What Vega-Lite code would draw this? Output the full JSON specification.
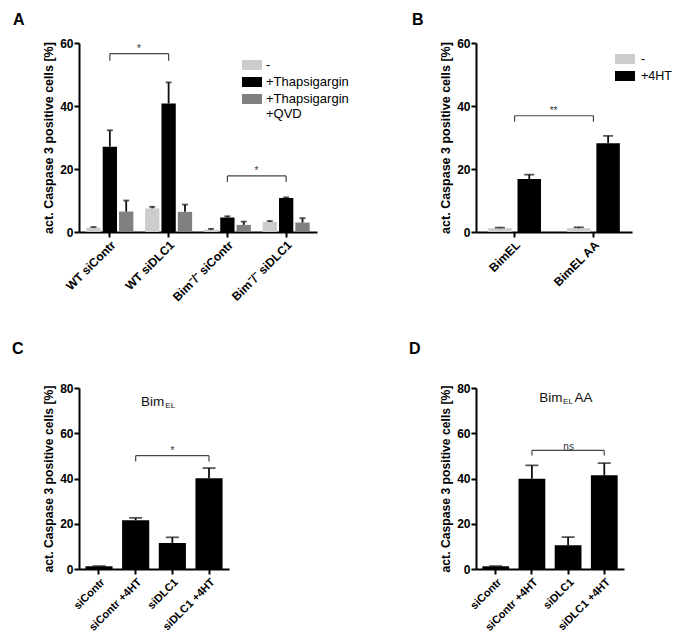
{
  "$schema": "https://vega.github.io/schema/vega-lite/v6.json",
  "background": "white",
  "padding": {"left": 12, "top": 12, "right": 0, "bottom": 0},
  "autosize": {"type": "pad"},
  "bounds": "flush",
  "columns": 2,
  "spacing": {"row": 156, "column": 159},
  "resolve": {"scale": {"x": "independent", "y": "independent", "color": "independent", "xOffset": "independent"}, "legend": {"color": "independent"}},
  "config": {
    "font": "Liberation Sans",
    "view": {"stroke": null},
    "axis": {"grid": false, "domainColor": "#000", "domainWidth": 2, "tickColor": "#000", "tickWidth": 2, "tickSize": 5, "labelColor": "#000", "labelFont": "Liberation Sans", "labelFontWeight": "bold", "labelFontSize": 12, "labelPadding": 1, "titleColor": "#000", "titleFont": "Liberation Sans", "titleFontWeight": "bold", "titleFontSize": 12.5, "titlePadding": 4},
    "axisX": {"labelAngle": -45, "labelPadding": 2, "title": null},
    "legend": {"labelFont": "Liberation Sans", "labelFontSize": 13, "labelColor": "#000", "title": null},
    "title": {"font": "Liberation Sans", "fontSize": 16, "fontWeight": "bold", "color": "#000", "anchor": "start", "frame": "group", "baseline": "alphabetic"}
  },
  "datasets": {
    "A": [
      {"group": "WT siContr", "treatment": "-", "mean": 1.4, "upper": 1.6},
      {"group": "WT siContr", "treatment": "+Thapsigargin", "mean": 27.1, "upper": 32.3},
      {"group": "WT siContr", "treatment": "+Thapsigargin +QVD", "mean": 6.5, "upper": 10.0},
      {"group": "WT siDLC1", "treatment": "-", "mean": 7.5, "upper": 8.0},
      {"group": "WT siDLC1", "treatment": "+Thapsigargin", "mean": 40.8, "upper": 47.5},
      {"group": "WT siDLC1", "treatment": "+Thapsigargin +QVD", "mean": 6.4, "upper": 8.7},
      {"group": "Bim⁻/⁻ siContr", "treatment": "-", "mean": 0.75, "upper": 1.0},
      {"group": "Bim⁻/⁻ siContr", "treatment": "+Thapsigargin", "mean": 4.6, "upper": 5.0},
      {"group": "Bim⁻/⁻ siContr", "treatment": "+Thapsigargin +QVD", "mean": 2.25, "upper": 3.3},
      {"group": "Bim⁻/⁻ siDLC1", "treatment": "-", "mean": 3.2, "upper": 3.5},
      {"group": "Bim⁻/⁻ siDLC1", "treatment": "+Thapsigargin", "mean": 10.8, "upper": 11.0},
      {"group": "Bim⁻/⁻ siDLC1", "treatment": "+Thapsigargin +QVD", "mean": 3.0, "upper": 4.4}
    ],
    "Abr": [
      {"left": "WT siContr", "right": "WT siDLC1", "level": 56.6, "low": 54.4, "textlevel": 58.2, "label": "*"},
      {"left": "Bim⁻/⁻ siContr", "right": "Bim⁻/⁻ siDLC1", "level": 17.8, "low": 15.9, "textlevel": 19.4, "label": "*"}
    ],
    "B": [
      {"group": "BimEL", "treatment": "-", "mean": 1.2, "upper": 1.4},
      {"group": "BimEL", "treatment": "+4HT", "mean": 16.8, "upper": 18.2},
      {"group": "BimEL AA", "treatment": "-", "mean": 1.2, "upper": 1.5},
      {"group": "BimEL AA", "treatment": "+4HT", "mean": 28.2, "upper": 30.5}
    ],
    "Bbr": [
      {"left": "BimEL", "right": "BimEL AA", "level": 36.9, "low": 35.0, "textlevel": 38.4, "label": "**"}
    ],
    "C": [
      {"condition": "siContr", "mean": 1.2, "upper": 1.3},
      {"condition": "siContr +4HT", "mean": 21.5, "upper": 22.6},
      {"condition": "siDLC1", "mean": 11.5, "upper": 14.0},
      {"condition": "siDLC1 +4HT", "mean": 40.1, "upper": 44.6}
    ],
    "Cbr": [
      {"left": "siContr +4HT", "right": "siDLC1 +4HT", "level": 50.1, "low": 47.5, "textlevel": 52.0, "label": "*"}
    ],
    "D": [
      {"condition": "siContr", "mean": 1.2, "upper": 1.3},
      {"condition": "siContr +4HT", "mean": 39.9, "upper": 45.8},
      {"condition": "siDLC1", "mean": 10.5, "upper": 14.1},
      {"condition": "siDLC1 +4HT", "mean": 41.4, "upper": 46.8}
    ],
    "Dbr": [
      {"left": "siContr +4HT", "right": "siDLC1 +4HT", "level": 52.4, "low": 50.2, "textlevel": 54.0, "label": "ns"}
    ],
    "Ctitle": [{"name": "Bim", "sub": "EL"}],
    "Dtitle": [{"name": "Bim", "sub": "EL", "rest": "AA"}]
  },
  "concat": [
    {
      "width": 238, "height": 189,
      "title": {"text": "A", "dx": -66, "offset": 9},
      "layer": [
        {"data": {"name": "A"}, "mark": {"type": "bar"},
         "encoding": {
           "x": {"field": "group", "type": "nominal", "sort": null, "scale": {"paddingInner": 0.2, "paddingOuter": 0.125}},
           "xOffset": {"field": "treatment", "type": "nominal", "sort": null, "scale": {"paddingInner": 0.125}},
           "y": {"field": "mean", "type": "quantitative", "scale": {"domain": [0, 60], "nice": false}, "axis": {"values": [0, 20, 40, 60], "title": "act. Caspase 3 positive cells [%]"}},
           "color": {"field": "treatment", "type": "nominal", "sort": null,
             "scale": {"domain": ["-", "+Thapsigargin", "+Thapsigargin +QVD"], "range": ["#cccccc", "#000000", "#808080"]},
             "legend": {"orient": "none", "legendX": 163, "legendY": 12, "symbolType": "M-1,-0.5H1V0.5H-1Z", "symbolSize": 400, "symbolStrokeWidth": 0, "labelOffset": 4, "rowPadding": -1, "labelFontSize": 13,
               "labelExpr": "datum.label === '+Thapsigargin +QVD' ? ['+Thapsigargin', '+QVD'] : datum.label"}}
         }},
        {"data": {"name": "A"}, "mark": {"type": "rule", "color": "#111", "strokeWidth": 1.8},
         "encoding": {
           "x": {"field": "group", "type": "nominal", "sort": null},
           "xOffset": {"field": "treatment", "type": "nominal", "sort": null},
           "y": {"field": "mean", "type": "quantitative"},
           "y2": {"field": "upper"}
         }},
        {"data": {"name": "A"}, "mark": {"type": "tick", "color": "#111", "thickness": 1.8, "size": 6, "orient": "horizontal"},
         "encoding": {
           "x": {"field": "group", "type": "nominal", "sort": null},
           "xOffset": {"field": "treatment", "type": "nominal", "sort": null},
           "y": {"field": "upper", "type": "quantitative"}
         }},
        {"data": {"name": "Abr"}, "mark": {"type": "rule", "color": "#444", "strokeWidth": 1.2},
         "encoding": {"x": {"field": "left", "type": "nominal", "sort": null}, "x2": {"field": "right"}, "y": {"field": "level", "type": "quantitative"}}},
        {"data": {"name": "Abr"}, "mark": {"type": "rule", "color": "#444", "strokeWidth": 1.2},
         "encoding": {"x": {"field": "left", "type": "nominal", "sort": null}, "y": {"field": "level", "type": "quantitative"}, "y2": {"field": "low"}}},
        {"data": {"name": "Abr"}, "mark": {"type": "rule", "color": "#444", "strokeWidth": 1.2},
         "encoding": {"x": {"field": "right", "type": "nominal", "sort": null}, "y": {"field": "level", "type": "quantitative"}, "y2": {"field": "low"}}},
        {"data": {"name": "Abr"}, "mark": {"type": "text", "color": "#333", "fontSize": 10, "dx": 29, "baseline": "middle"},
         "encoding": {"x": {"field": "left", "type": "nominal", "sort": null}, "y": {"field": "textlevel", "type": "quantitative"}, "text": {"field": "label"}}}
      ]
    },
    {
      "width": 156, "height": 189,
      "title": {"text": "B", "dx": -64, "offset": 9},
      "layer": [
        {"data": {"name": "B"}, "mark": {"type": "bar"},
         "encoding": {
           "x": {"field": "group", "type": "nominal", "sort": null, "scale": {"paddingInner": 0.33, "paddingOuter": 0.154}},
           "xOffset": {"field": "treatment", "type": "nominal", "sort": null, "scale": {"paddingInner": 0.2}},
           "y": {"field": "mean", "type": "quantitative", "scale": {"domain": [0, 60], "nice": false}, "axis": {"values": [0, 20, 40, 60], "title": "act. Caspase 3 positive cells [%]"}},
           "color": {"field": "treatment", "type": "nominal", "sort": null,
             "scale": {"domain": ["-", "+4HT"], "range": ["#cccccc", "#000000"]},
             "legend": {"orient": "none", "legendX": 139, "legendY": 6, "symbolType": "M-1,-0.5H1V0.5H-1Z", "symbolSize": 400, "symbolStrokeWidth": 0, "labelOffset": 6, "rowPadding": -1, "labelFontSize": 12.5}}
         }},
        {"data": {"name": "B"}, "mark": {"type": "rule", "color": "#111", "strokeWidth": 1.8},
         "encoding": {
           "x": {"field": "group", "type": "nominal", "sort": null},
           "xOffset": {"field": "treatment", "type": "nominal", "sort": null},
           "y": {"field": "mean", "type": "quantitative"},
           "y2": {"field": "upper"}
         }},
        {"data": {"name": "B"}, "mark": {"type": "tick", "color": "#111", "thickness": 1.8, "size": 10, "orient": "horizontal"},
         "encoding": {
           "x": {"field": "group", "type": "nominal", "sort": null},
           "xOffset": {"field": "treatment", "type": "nominal", "sort": null},
           "y": {"field": "upper", "type": "quantitative"}
         }},
        {"data": {"name": "Bbr"}, "mark": {"type": "rule", "color": "#444", "strokeWidth": 1.2},
         "encoding": {"x": {"field": "left", "type": "nominal", "sort": null}, "x2": {"field": "right"}, "y": {"field": "level", "type": "quantitative"}}},
        {"data": {"name": "Bbr"}, "mark": {"type": "rule", "color": "#444", "strokeWidth": 1.2},
         "encoding": {"x": {"field": "left", "type": "nominal", "sort": null}, "y": {"field": "level", "type": "quantitative"}, "y2": {"field": "low"}}},
        {"data": {"name": "Bbr"}, "mark": {"type": "rule", "color": "#444", "strokeWidth": 1.2},
         "encoding": {"x": {"field": "right", "type": "nominal", "sort": null}, "y": {"field": "level", "type": "quantitative"}, "y2": {"field": "low"}}},
        {"data": {"name": "Bbr"}, "mark": {"type": "text", "color": "#333", "fontSize": 10, "dx": 39, "baseline": "middle"},
         "encoding": {"x": {"field": "left", "type": "nominal", "sort": null}, "y": {"field": "textlevel", "type": "quantitative"}, "text": {"field": "label"}}}
      ]
    },
    {
      "width": 150, "height": 181,
      "title": {"text": "C", "dx": -67, "offset": 25},
      "layer": [
        {"data": {"name": "C"}, "mark": {"type": "bar", "color": "#000"},
         "encoding": {
           "x": {"field": "condition", "type": "nominal", "sort": null, "scale": {"paddingInner": 0.26, "paddingOuter": 0.175}, "axis": {"labelFontSize": 11}},
           "y": {"field": "mean", "type": "quantitative", "scale": {"domain": [0, 80], "nice": false}, "axis": {"values": [0, 20, 40, 60, 80], "title": "act. Caspase 3 positive cells [%]", "titleFontSize": 12.2}}
         }},
        {"data": {"name": "C"}, "mark": {"type": "rule", "color": "#111", "strokeWidth": 1.8},
         "encoding": {"x": {"field": "condition", "type": "nominal", "sort": null}, "y": {"field": "mean", "type": "quantitative"}, "y2": {"field": "upper"}}},
        {"data": {"name": "C"}, "mark": {"type": "tick", "color": "#111", "thickness": 1.8, "size": 13, "orient": "horizontal"},
         "encoding": {"x": {"field": "condition", "type": "nominal", "sort": null}, "y": {"field": "upper", "type": "quantitative"}}},
        {"data": {"name": "Cbr"}, "mark": {"type": "rule", "color": "#444", "strokeWidth": 1.2},
         "encoding": {"x": {"field": "left", "type": "nominal", "sort": null}, "x2": {"field": "right"}, "y": {"field": "level", "type": "quantitative"}}},
        {"data": {"name": "Cbr"}, "mark": {"type": "rule", "color": "#444", "strokeWidth": 1.2},
         "encoding": {"x": {"field": "left", "type": "nominal", "sort": null}, "y": {"field": "level", "type": "quantitative"}, "y2": {"field": "low"}}},
        {"data": {"name": "Cbr"}, "mark": {"type": "rule", "color": "#444", "strokeWidth": 1.2},
         "encoding": {"x": {"field": "right", "type": "nominal", "sort": null}, "y": {"field": "level", "type": "quantitative"}, "y2": {"field": "low"}}},
        {"data": {"name": "Cbr"}, "mark": {"type": "text", "color": "#333", "fontSize": 10, "dx": 36.7, "baseline": "middle"},
         "encoding": {"x": {"field": "left", "type": "nominal", "sort": null}, "y": {"field": "textlevel", "type": "quantitative"}, "text": {"field": "label"}}},
        {"data": {"name": "Ctitle"}, "mark": {"type": "text", "color": "#111", "fontSize": 13.5, "align": "right", "baseline": "alphabetic", "dx": -8},
         "encoding": {"x": {"datum": "siDLC1"}, "y": {"datum": 72}, "text": {"field": "name"}}},
        {"data": {"name": "Ctitle"}, "mark": {"type": "text", "color": "#111", "fontSize": 8, "align": "left", "baseline": "alphabetic", "dx": -7, "dy": 2},
         "encoding": {"x": {"datum": "siDLC1"}, "y": {"datum": 72}, "text": {"field": "sub"}}}
      ]
    },
    {
      "width": 148, "height": 181,
      "title": {"text": "D", "dx": -67, "offset": 25},
      "layer": [
        {"data": {"name": "D"}, "mark": {"type": "bar", "color": "#000"},
         "encoding": {
           "x": {"field": "condition", "type": "nominal", "sort": null, "scale": {"paddingInner": 0.26, "paddingOuter": 0.175}, "axis": {"labelFontSize": 11}},
           "y": {"field": "mean", "type": "quantitative", "scale": {"domain": [0, 80], "nice": false}, "axis": {"values": [0, 20, 40, 60, 80], "title": "act. Caspase 3 positive cells [%]", "titleFontSize": 12.2}}
         }},
        {"data": {"name": "D"}, "mark": {"type": "rule", "color": "#111", "strokeWidth": 1.8},
         "encoding": {"x": {"field": "condition", "type": "nominal", "sort": null}, "y": {"field": "mean", "type": "quantitative"}, "y2": {"field": "upper"}}},
        {"data": {"name": "D"}, "mark": {"type": "tick", "color": "#111", "thickness": 1.8, "size": 13, "orient": "horizontal"},
         "encoding": {"x": {"field": "condition", "type": "nominal", "sort": null}, "y": {"field": "upper", "type": "quantitative"}}},
        {"data": {"name": "Dbr"}, "mark": {"type": "rule", "color": "#444", "strokeWidth": 1.2},
         "encoding": {"x": {"field": "left", "type": "nominal", "sort": null}, "x2": {"field": "right"}, "y": {"field": "level", "type": "quantitative"}}},
        {"data": {"name": "Dbr"}, "mark": {"type": "rule", "color": "#444", "strokeWidth": 1.2},
         "encoding": {"x": {"field": "left", "type": "nominal", "sort": null}, "y": {"field": "level", "type": "quantitative"}, "y2": {"field": "low"}}},
        {"data": {"name": "Dbr"}, "mark": {"type": "rule", "color": "#444", "strokeWidth": 1.2},
         "encoding": {"x": {"field": "right", "type": "nominal", "sort": null}, "y": {"field": "level", "type": "quantitative"}, "y2": {"field": "low"}}},
        {"data": {"name": "Dbr"}, "mark": {"type": "text", "color": "#333", "fontSize": 10, "dx": 36.7, "baseline": "middle"},
         "encoding": {"x": {"field": "left", "type": "nominal", "sort": null}, "y": {"field": "textlevel", "type": "quantitative"}, "text": {"field": "label"}}},
        {"data": {"name": "Dtitle"}, "mark": {"type": "text", "color": "#111", "fontSize": 13.5, "align": "right", "baseline": "alphabetic", "dx": -5.5},
         "encoding": {"x": {"datum": "siDLC1"}, "y": {"datum": 74}, "text": {"field": "name"}}},
        {"data": {"name": "Dtitle"}, "mark": {"type": "text", "color": "#111", "fontSize": 8, "align": "left", "baseline": "alphabetic", "dx": -5, "dy": 2},
         "encoding": {"x": {"datum": "siDLC1"}, "y": {"datum": 74}, "text": {"field": "sub"}}},
        {"data": {"name": "Dtitle"}, "mark": {"type": "text", "color": "#111", "fontSize": 13.5, "align": "left", "baseline": "alphabetic", "dx": 6.5},
         "encoding": {"x": {"datum": "siDLC1"}, "y": {"datum": 74}, "text": {"field": "rest"}}}
      ]
    }
  ]
}
